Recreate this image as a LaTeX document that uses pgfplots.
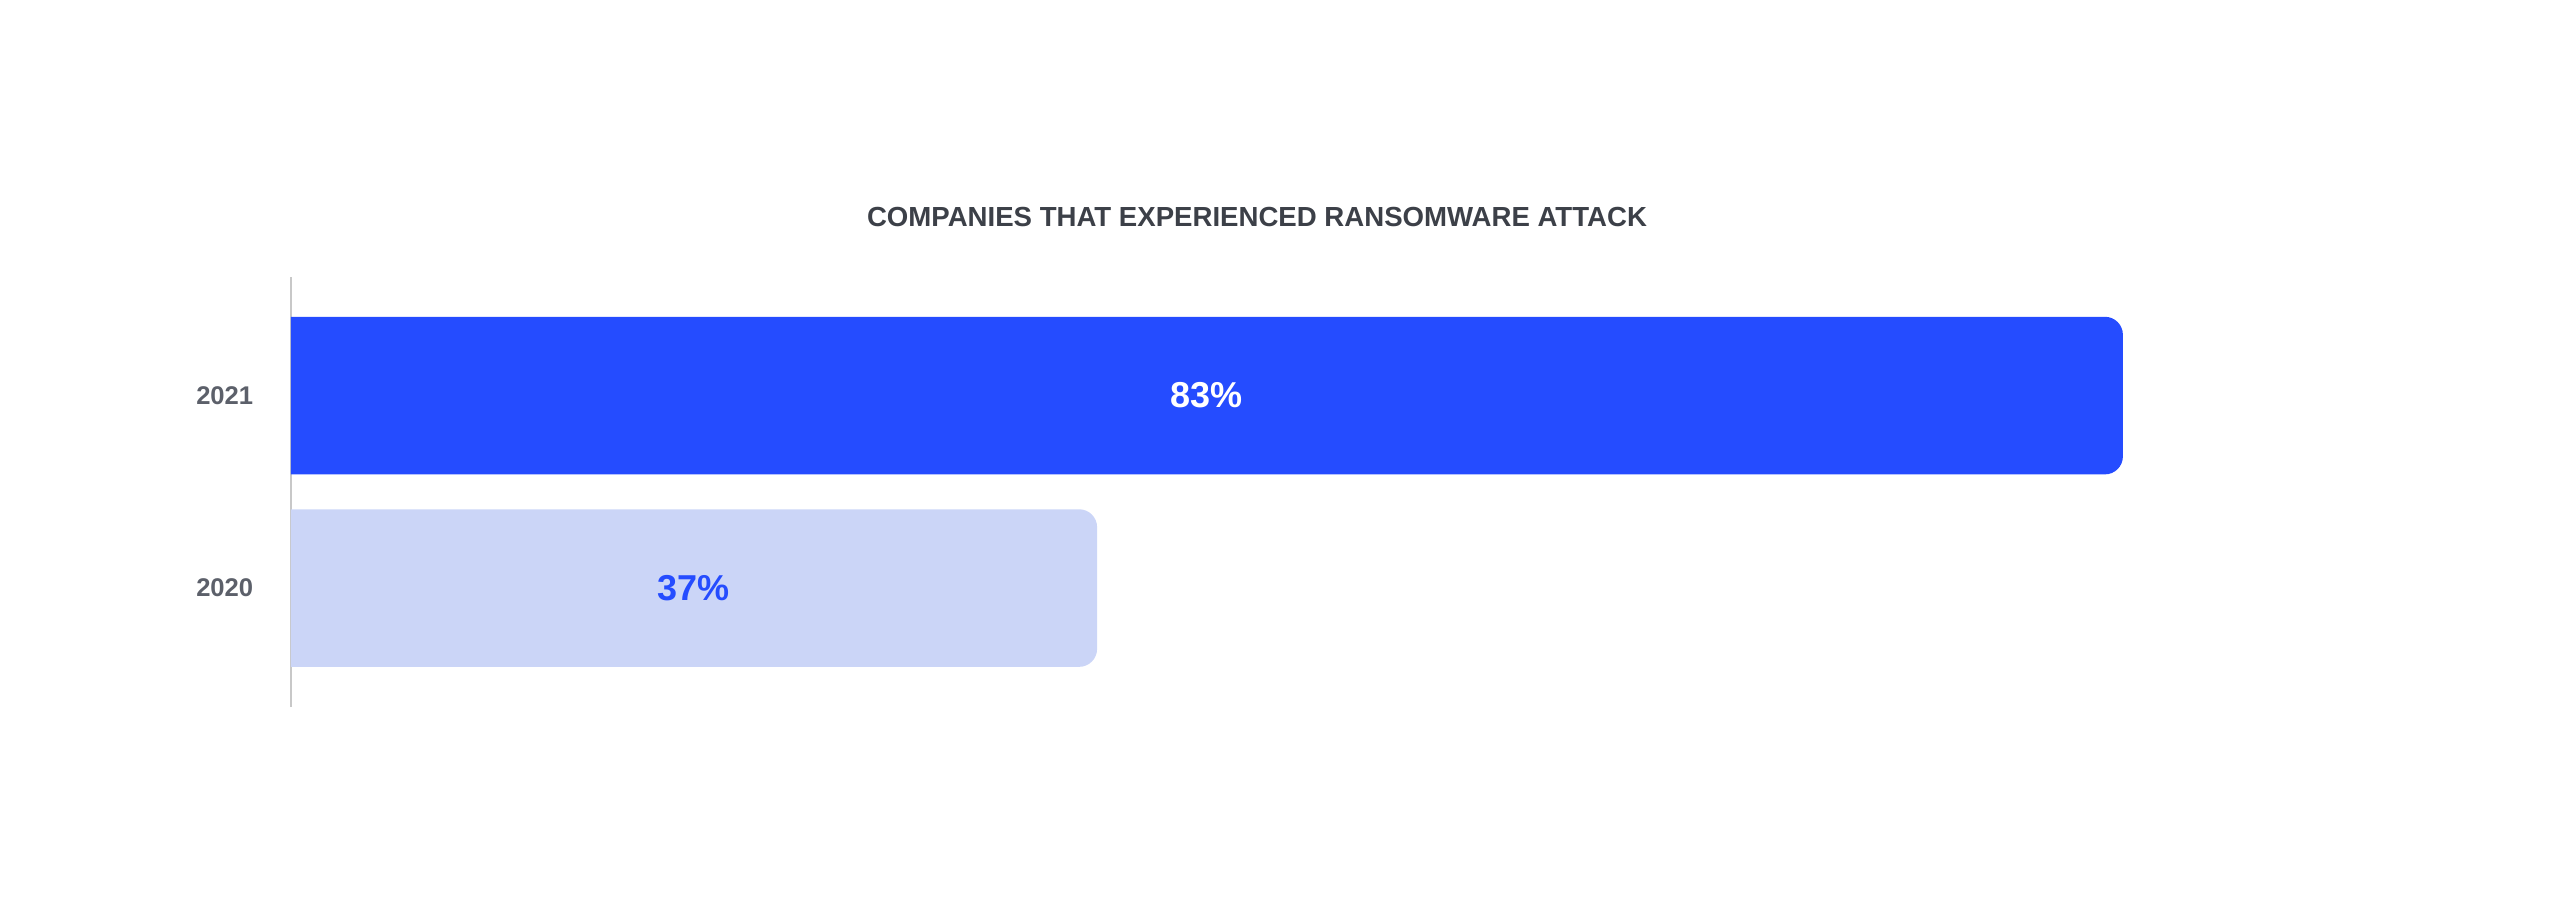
\documentclass[border=0pt]{standalone}
\usepackage{pgfplots}
\pgfplotsset{compat=1.18}
\usepackage{fontspec}
\setmainfont{Liberation Sans}

\definecolor{barblue}{RGB}{37,76,255}
\definecolor{barlight}{RGB}{203,213,247}
\definecolor{titlegray}{RGB}{60,64,72}
\definecolor{labelgray}{RGB}{92,96,106}
\definecolor{linegray}{RGB}{200,200,200}

\begin{document}
\begin{tikzpicture}
% page frame: 2560 x 915 px at 0.25pt per px
\path[use as bounding box] (0,0) rectangle (640pt,228.75pt);
\begin{axis}[
    name=ax,
    at={(68pt,52pt)},
    anchor=south west,
    scale only axis,
    width=557.5pt,
    height=107.5pt,
    xmin=0, xmax=100,
    ymin=-0.618, ymax=1.616,
    axis line style={draw=none},
    xtick=\empty,
    extra x ticks={0.85},
    extra x tick labels={},
    extra x tick style={grid=major, major grid style={draw=linegray, line width=0.5pt}},
    ytick={0,1},
    yticklabels={2020,2021},
    major tick length=0pt,
    yticklabel style={anchor=east, inner sep=0pt, xshift=-4.5pt,
        font=\fontsize{6.4}{7}\selectfont\bfseries, text=labelgray},
    xbar,
    bar width=39.4pt,
    bar shift=0pt,
]
% hide the rounded left ends: bars show from the axis line on
\clip (axis cs:0.85,-0.618) rectangle (axis cs:100,1.616);
% 2021
\addplot[fill=barblue, draw=none, rounded corners=4.5pt] coordinates {(83,1)};
% 2020
\addplot[fill=barlight, draw=none, rounded corners=4.5pt] coordinates {(37,0)};

\node[font=\fontsize{9}{10}\selectfont\bfseries, text=white] at (axis cs:41.9,1) {83\%};
\node[font=\fontsize{9}{10}\selectfont\bfseries, text=barblue] at (axis cs:18.9,0) {37\%};
\end{axis}
\path (ax.north west) -- (ax.north east)
    node[pos=0.4417, yshift=15.1pt, inner sep=0pt, text=titlegray,
         font=\fontsize{6.9}{8}\selectfont\bfseries]
    {COMPANIES THAT EXPERIENCED RANSOMWARE ATTACK};
\end{tikzpicture}
\end{document}
